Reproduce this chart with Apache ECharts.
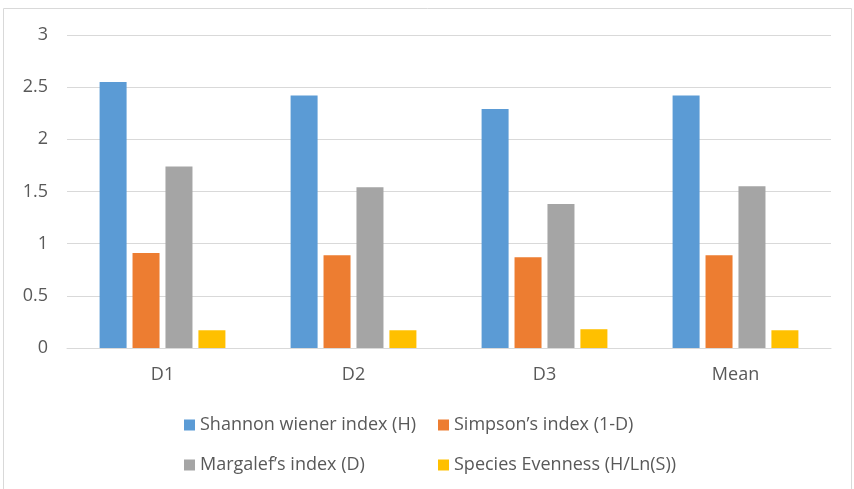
<!DOCTYPE html>
<html>
<head>
<meta charset="utf-8">
<script src="https://cdn.jsdelivr.net/npm/echarts@6/dist/echarts.min.js"></script>
<style>
  html, body { margin: 0; padding: 0; background: #fff; }
  #chart { width: 854px; height: 489px; }
</style>
</head>
<body>
<div id="chart"></div>
<script>
// Diversity indices per site
const sites = ['D1', 'D2', 'D3', 'Mean'];
const shannon = [2.55, 2.42, 2.29, 2.42];
const simpson = [0.91, 0.89, 0.87, 0.89];
const margalef = [1.74, 1.54, 1.38, 1.55];
const evenness = [0.17, 0.17, 0.18, 0.17];
const seriesNames = [
  'Shannon wiener index (H)',
  'Simpson\u2019s index (1-D)',
  'Margalef\u2019s index (D)',
  'Species Evenness (H/Ln(S))'
];
const yTicks = [0, 0.5, 1, 1.5, 2, 2.5, 3];

const colors = ['#5b9bd5', '#ed7d31', '#a5a5a5', '#ffc000'];
const textColor = '#595959';
const font = '"Open Sans", "Noto Sans", sans-serif';

const chart = echarts.init(document.getElementById('chart'));

// one legend per entry so the two rows line up in columns
const legendPos = [
  { left: 179, top: 411 },
  { left: 433, top: 411 },
  { left: 179, top: 451 },
  { left: 433, top: 451 }
];
const legends = seriesNames.map((n, i) => ({
  data: [n],
  left: legendPos[i].left,
  top: legendPos[i].top,
  itemWidth: 11,
  itemHeight: 11,
  itemGap: 0,
  icon: 'rect',
  textStyle: { color: textColor, fontSize: 18, fontFamily: font }
}));

const data = [shannon, simpson, margalef, evenness];

chart.setOption({
  animation: false,
  color: colors,
  graphic: [{
    type: 'rect',
    shape: { x: 3.5, y: 8.5, width: 848, height: 490 },
    style: { fill: 'none', stroke: '#d9d9d9', lineWidth: 1 },
    silent: true
  }],
  grid: { left: 67, right: 23, top: 35, bottom: 141 },
  legend: legends,
  xAxis: {
    type: 'category',
    data: sites,
    axisLine: { show: true, lineStyle: { color: '#d9d9d9', width: 1 } },
    axisTick: { show: false },
    axisLabel: { color: textColor, fontSize: 18, fontFamily: font, margin: 18 }
  },
  yAxis: {
    type: 'value',
    min: yTicks[0],
    max: yTicks[yTicks.length - 1],
    interval: 0.5,
    axisLine: { show: false },
    axisTick: { show: false },
    splitLine: { lineStyle: { color: '#d9d9d9', width: 1 } },
    axisLabel: { color: textColor, fontSize: 18, fontFamily: font, margin: 19 }
  },
  series: seriesNames.map((n, i) => ({
    name: n,
    type: 'bar',
    data: data[i],
    barWidth: 27,
    barGap: '22%',
    barCategoryGap: '34%'
  }))
});
</script>
</body>
</html>
